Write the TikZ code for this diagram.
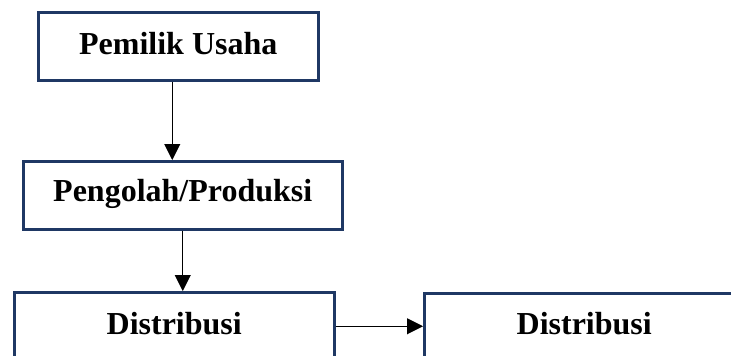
\documentclass[tikz,border=0pt]{standalone}
\usepackage{fontspec}
\setmainfont{Liberation Serif}
\usetikzlibrary{arrows.meta}
\definecolor{boxnavy}{HTML}{1F3864}
\tikzset{
  box/.style={draw=boxnavy, line width=2.5pt, inner sep=0pt, anchor=north west,
    font=\bfseries\fontsize{32}{38}\selectfont, align=center},
  arr/.style={draw=black, line width=1pt, -{Triangle[length=16pt,width=16pt]}}
}
\begin{document}
\begin{tikzpicture}[x=1pt,y=-1pt]
\useasboundingbox (0,0) rectangle (731,356);
\clip (0,0) rectangle (731,356);
\node[box, minimum width=280pt, text height=42pt, text depth=26pt] (owner) at (37,11) {Pemilik Usaha};
\node[box, minimum width=319pt, text height=40pt, text depth=28pt] (prod) at (22,160) {Pengolah/Produksi};
\node[box, minimum width=320pt, text height=42pt, text depth=50pt] (distA) at (13,291) {Distribusi};
\node[box, minimum width=320pt, text height=41pt, text depth=50pt] (distB) at (423,292) {Distribusi};
\draw[arr] ([xshift=-6pt]owner.south) -- ([xshift=-6pt]owner.south |- prod.north);
\draw[arr] (prod.south) -- (prod.south |- distA.north);
\draw[arr] ([yshift=8pt]distA.base east) -- ([yshift=8pt]distA.base east -| distB.west);
\end{tikzpicture}
\end{document}
